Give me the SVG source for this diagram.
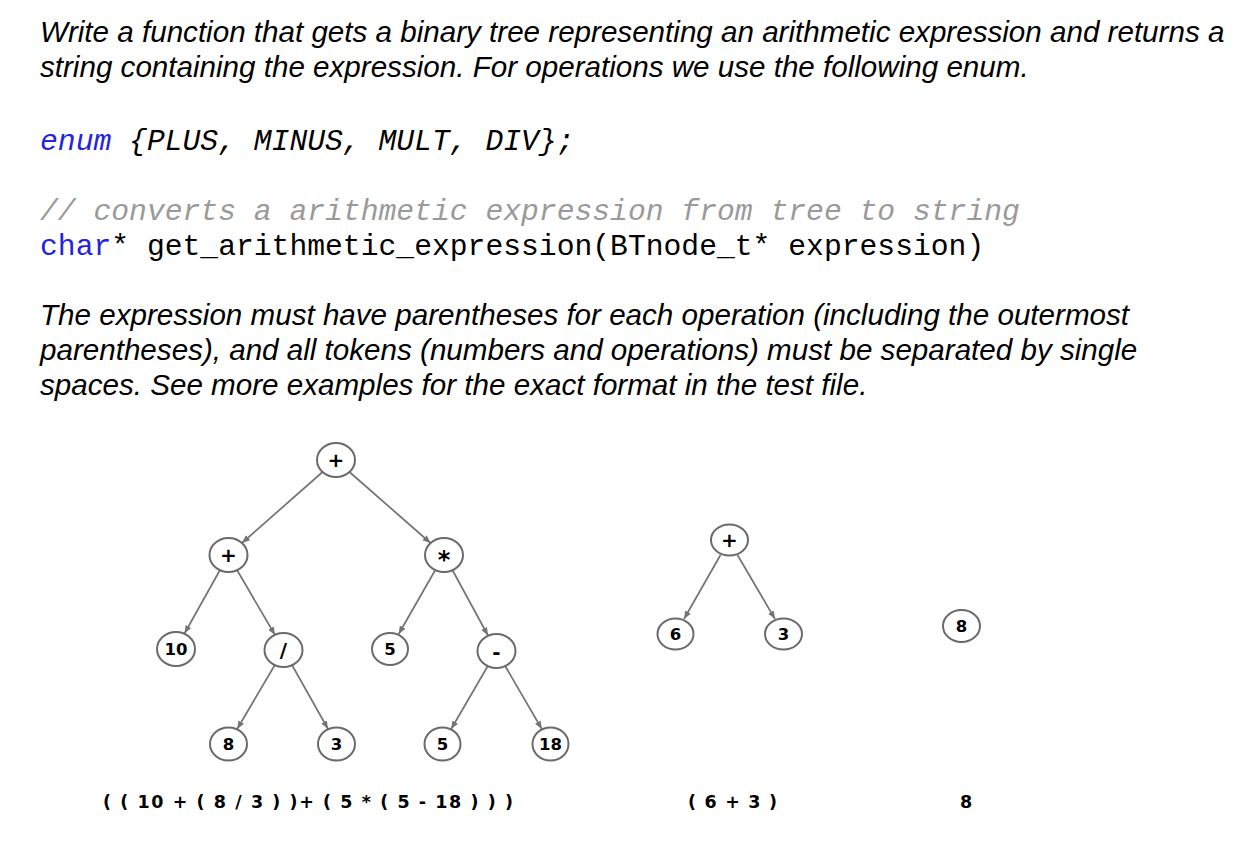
<svg xmlns="http://www.w3.org/2000/svg" width="1246" height="846" viewBox="0 0 1246 846">
<style>
.p{font-family:"Liberation Sans",Arial,sans-serif;font-style:italic;font-size:29.6px;fill:#000}
.c{font-family:"Liberation Mono","Courier New",monospace;font-size:29.7px;fill:#000}
.kw{fill:#2323e0}
.cm{fill:#9a9a9a;font-style:italic}
.it{font-style:italic}
.n ellipse{fill:#fff;stroke:#6a6a6a;stroke-width:2}
.n text{font-family:"DejaVu Sans",Verdana,sans-serif;font-weight:bold;font-size:16.5px;fill:#000;text-anchor:middle}
.n text.op{font-size:20px}
.n text.st{font-size:24px}
.e line{stroke:#737373;stroke-width:1.7;marker-end:url(#ah)}
.x{font-family:"DejaVu Sans",Verdana,sans-serif;font-weight:bold;font-size:17.5px;fill:#000}
</style>
<defs>
<marker id="ah" markerUnits="userSpaceOnUse" markerWidth="10" markerHeight="10" refX="8" refY="4" orient="auto">
<path d="M0,0.8 L8,4 L0,7.2 Z" fill="#737373"/>
</marker>
</defs>
<rect width="1246" height="846" fill="#fff"/>
<g id="header">
<text class="p" x="40" y="42">Write a function that gets a binary tree representing an arithmetic expression and returns a</text>
<text class="p" x="40" y="77">string containing the expression. For operations we use the following enum.</text>
</g>
<g id="code">
<text class="c" x="40" y="150" xml:space="preserve"><tspan class="kw it">enum</tspan><tspan class="it"> {PLUS, MINUS, MULT, DIV};</tspan></text>
<text class="c cm" x="40" y="220">// converts a arithmetic expression from tree to string</text>
<text class="c" x="40" y="255" xml:space="preserve"><tspan class="kw">char</tspan>* get_arithmetic_expression(BTnode_t* expression)</text>
</g>
<g id="paragraph">
<text class="p" x="40" y="325">The expression must have parentheses for each operation (including the outermost</text>
<text class="p" x="40" y="360">parentheses), and all tokens (numbers and operations) must be separated by single</text>
<text class="p" x="40" y="395">spaces. See more examples for the exact format in the test file.</text>
</g>
<g id="connectors" class="e">
<line x1="322.5" y1="472" x2="242" y2="543"/>
<line x1="349.5" y1="472" x2="430.5" y2="543"/>
<line x1="220" y1="570" x2="184.5" y2="633.5"/>
<line x1="237" y1="570" x2="275" y2="635"/>
<line x1="435.3" y1="570" x2="398.7" y2="634"/>
<line x1="452.4" y1="570" x2="488" y2="635.5"/>
<line x1="274.8" y1="665" x2="237.2" y2="729"/>
<line x1="292" y1="665" x2="328" y2="729"/>
<line x1="487.8" y1="666" x2="451.2" y2="729"/>
<line x1="505.2" y1="666" x2="541.8" y2="729"/>
<line x1="720.5" y1="555" x2="684" y2="619"/>
<line x1="737.5" y1="555" x2="775" y2="619"/>
</g>
<g id="n-root" class="n"><ellipse cx="336" cy="460" rx="19" ry="17"/><text class="op" x="336" y="467">+</text></g>
<g id="n-plus" class="n"><ellipse cx="228.5" cy="555" rx="19" ry="17"/><text class="op" x="228.5" y="562">+</text></g>
<g id="n-mult" class="n"><ellipse cx="444" cy="555" rx="19" ry="17"/><text class="st" x="444" y="568">*</text></g>
<g id="n-10" class="n"><ellipse cx="176" cy="649" rx="19" ry="17"/><text x="176" y="655">10</text></g>
<g id="n-div" class="n"><ellipse cx="283.5" cy="650" rx="19" ry="17"/><text class="op" x="283.5" y="657">/</text></g>
<g id="n-5a" class="n"><ellipse cx="390" cy="649" rx="18" ry="16"/><text x="390" y="655">5</text></g>
<g id="n-minus" class="n"><ellipse cx="496.5" cy="651" rx="19" ry="17"/><text class="op" x="496.5" y="659">-</text></g>
<g id="n-8" class="n"><ellipse cx="228.5" cy="744" rx="18.5" ry="16.5"/><text x="228.5" y="750">8</text></g>
<g id="n-3" class="n"><ellipse cx="336.5" cy="744" rx="18.5" ry="16.5"/><text x="336.5" y="750">3</text></g>
<g id="n-5b" class="n"><ellipse cx="442.5" cy="744" rx="18" ry="16.5"/><text x="442.5" y="750">5</text></g>
<g id="n-18" class="n"><ellipse cx="550.5" cy="744" rx="18" ry="16.5"/><text x="550.5" y="750">18</text></g>
<g id="n2-root" class="n"><ellipse cx="729.5" cy="540" rx="18.5" ry="15.5"/><text class="op" x="729.5" y="547">+</text></g>
<g id="n2-6" class="n"><ellipse cx="675.5" cy="634" rx="18" ry="15.5"/><text x="675.5" y="640">6</text></g>
<g id="n2-3" class="n"><ellipse cx="783.5" cy="634" rx="18.5" ry="15.5"/><text x="783.5" y="640">3</text></g>
<g id="n3-8" class="n"><ellipse cx="961.5" cy="626" rx="18.5" ry="16"/><text x="961.5" y="632">8</text></g>
<g id="results">
<text class="x" x="103" y="808" textLength="410" lengthAdjust="spacing" xml:space="preserve">( ( 10 + ( 8 / 3 ) )+ ( 5 * ( 5 - 18 ) ) )</text>
<text class="x" x="688" y="808" textLength="89" lengthAdjust="spacing" xml:space="preserve">( 6 + 3 )</text>
<text class="x" x="966" y="808" text-anchor="middle">8</text>
</g>
</svg>
